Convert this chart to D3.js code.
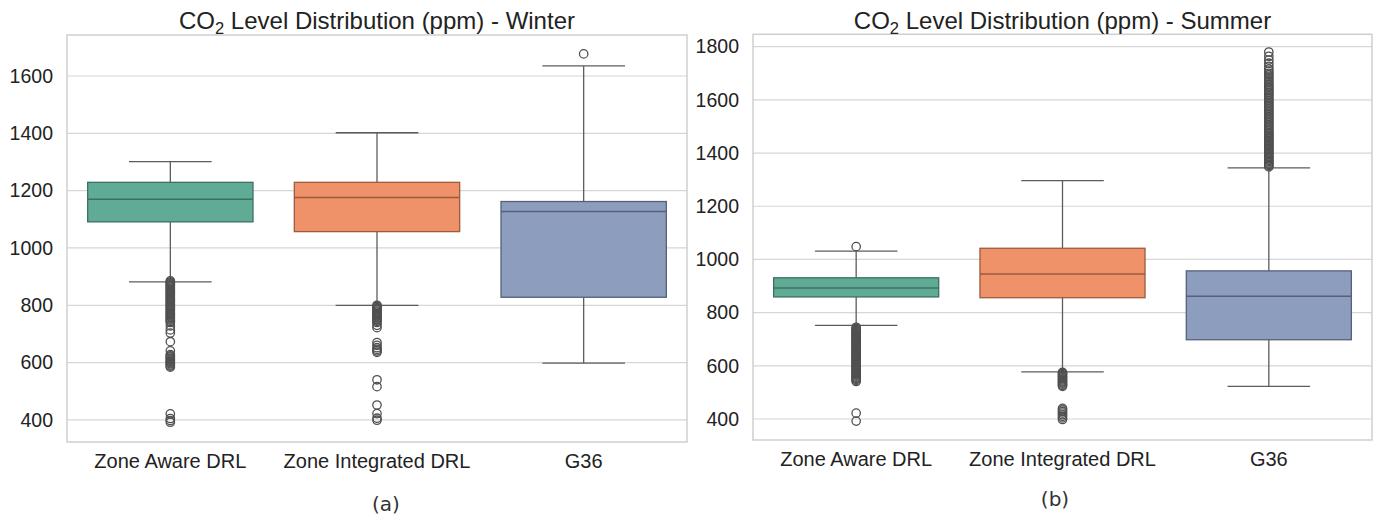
<!DOCTYPE html>
<html>
<head>
<meta charset="utf-8">
<script src="https://cdn.jsdelivr.net/npm/d3@7"></script>
<style>
  body { margin: 0; background: #fff; }
  svg { display: block; font-family: "Liberation Sans", Arial, sans-serif; }
</style>
</head>
<body>
<div id="chart"></div>
<script>
// categories
var categories = ["Zone Aware DRL", "Zone Integrated DRL", "G36"];

// winter box stats (ppm)
var winterLow = [882, 800, 598];
var winterQ1 = [1091, 1057, 828];
var winterMed = [1170, 1176, 1127];
var winterQ3 = [1229, 1229, 1162];
var winterHigh = [1301, 1402, 1635];

// winter outliers
var winterOutAware = [885, 882, 878, 875, 871, 868, 864, 860, 856, 852, 848, 844, 840, 836, 832, 828, 824, 820, 816, 812, 808, 804,
  800, 796, 792, 788, 784, 780, 776, 772, 768, 764, 760, 756, 752, 748, 744, 740, 728, 714, 703, 673, 641,
  628, 624, 620, 616, 612, 608, 604, 600, 596, 592, 588, 584, 421, 405, 398, 392];
var winterOutIntegrated = [800, 796, 792, 788, 784, 780, 776, 772, 768, 764, 760, 756, 752, 748, 744, 740, 730, 722,
  670, 660, 652, 646, 641, 636, 540, 516, 452, 422, 406, 399];
var winterOutG36 = [1677];

// summer box stats (ppm)
var summerLow = [752, 577, 523];
var summerQ1 = [859, 856, 698];
var summerMed = [893, 945, 862];
var summerQ3 = [931, 1042, 957];
var summerHigh = [1031, 1296, 1344];

// summer outliers
var summerOutAware = [1048, 745, 741, 737, 733, 729, 725, 721, 717, 713, 709, 705, 701, 697, 693, 689, 685, 681, 677, 673,
  669, 665, 661, 657, 653, 649, 645, 641, 637, 633, 629, 625, 621, 617, 613, 609, 605, 601, 597, 593, 589, 585, 581,
  577, 573, 569, 565, 561, 557, 553, 549, 545, 541, 422, 392];
var summerOutIntegrated = [575, 571, 567, 563, 559, 555, 551, 547, 543, 539, 535, 531, 527, 523, 440, 434, 428, 422,
  416, 410, 404, 398];
var summerOutG36 = [1348, 1353, 1358, 1363, 1368, 1373, 1378, 1383, 1388, 1393, 1398, 1403, 1408, 1413, 1418, 1423, 1428,
  1433, 1438, 1443, 1448, 1453, 1458, 1463, 1468, 1473, 1478, 1484, 1490, 1496, 1502, 1508, 1514, 1520, 1526, 1532,
  1538, 1544, 1550, 1556, 1562, 1568, 1574, 1580, 1586, 1592, 1598, 1604, 1610, 1616, 1622, 1628, 1634, 1640, 1646,
  1652, 1658, 1665, 1672, 1679, 1686, 1693, 1700, 1708, 1716, 1726, 1738, 1750, 1764, 1780];

// y ticks
var winterTicks = [400, 600, 800, 1000, 1200, 1400, 1600];
var summerTicks = [400, 600, 800, 1000, 1200, 1400, 1600, 1800];

var fills = ["#5fab95", "#ef9169", "#8d9dbe"];
var edges = ["#3f6f61", "#9c5a3f", "#56607a"];

var W = 1378, H = 520;
var svg = d3.select("#chart").append("svg")
  .attr("width", W).attr("height", H);

function buildPanel(cfg) {
  var x = d3.scaleBand().domain(categories).range([cfg.left, cfg.right]);
  var y = d3.scaleLinear().domain(cfg.domain).range([cfg.bottom, cfg.top]);
  var g = svg.append("g");

  // grid
  g.selectAll(".grid").data(cfg.ticks).enter().append("line")
    .attr("x1", cfg.left).attr("x2", cfg.right)
    .attr("y1", function(d) { return y(d); }).attr("y2", function(d) { return y(d); })
    .attr("stroke", "#d6d6d6").attr("stroke-width", 1.2);

  // frame
  g.append("rect")
    .attr("x", cfg.left).attr("y", cfg.top)
    .attr("width", cfg.right - cfg.left).attr("height", cfg.bottom - cfg.top)
    .attr("fill", "none").attr("stroke", "#cfcfcf").attr("stroke-width", 1.5);

  // y axis
  var yAxis = g.append("g")
    .attr("transform", "translate(" + cfg.left + ",0)")
    .call(d3.axisLeft(y).tickValues(cfg.ticks).tickSize(0).tickPadding(14).tickFormat(d3.format("d")));
  yAxis.select(".domain").remove();
  yAxis.selectAll("text").attr("font-size", "19.5px").attr("fill", "#222")
    .attr("font-family", "Liberation Sans, Arial, sans-serif");

  // x axis
  var xAxis = g.append("g")
    .attr("transform", "translate(0," + cfg.bottom + ")")
    .call(d3.axisBottom(x).tickSize(0).tickPadding(12));
  xAxis.select(".domain").remove();
  xAxis.selectAll("text").attr("font-size", "20px").attr("fill", "#222")
    .attr("font-family", "Liberation Sans, Arial, sans-serif");

  var bw = x.bandwidth() * 0.8;
  var cw = x.bandwidth() * 0.4;

  categories.forEach(function(c, i) {
    var cx = x(c) + x.bandwidth() / 2;
    var box = g.append("g");
    // whiskers
    box.append("line").attr("x1", cx).attr("x2", cx)
      .attr("y1", y(cfg.q3[i])).attr("y2", y(cfg.high[i]))
      .attr("stroke", "#5c5c5c").attr("stroke-width", 1.3);
    box.append("line").attr("x1", cx).attr("x2", cx)
      .attr("y1", y(cfg.q1[i])).attr("y2", y(cfg.low[i]))
      .attr("stroke", "#5c5c5c").attr("stroke-width", 1.3);
    // caps
    [cfg.high[i], cfg.low[i]].forEach(function(v) {
      box.append("line").attr("x1", cx - cw / 2).attr("x2", cx + cw / 2)
        .attr("y1", y(v)).attr("y2", y(v))
        .attr("stroke", "#5c5c5c").attr("stroke-width", 1.3);
    });
    // box
    box.append("rect")
      .attr("x", cx - bw / 2).attr("y", y(cfg.q3[i]))
      .attr("width", bw).attr("height", y(cfg.q1[i]) - y(cfg.q3[i]))
      .attr("fill", fills[i]).attr("stroke", edges[i]).attr("stroke-width", 1.3);
    // median
    box.append("line").attr("x1", cx - bw / 2).attr("x2", cx + bw / 2)
      .attr("y1", y(cfg.med[i])).attr("y2", y(cfg.med[i]))
      .attr("stroke", edges[i]).attr("stroke-width", 1.5);
    // fliers
    box.selectAll(".flier").data(cfg.outliers[i]).enter().append("circle")
      .attr("cx", cx).attr("cy", function(d) { return y(d); })
      .attr("r", 4.2)
      .attr("fill", "none").attr("stroke", "#505050").attr("stroke-width", 1.3);
  });

  // title
  var t = svg.append("text")
    .attr("x", (cfg.left + cfg.right) / 2).attr("y", cfg.titleY)
    .attr("text-anchor", "middle").attr("font-size", "24px").attr("fill", "#222");
  t.append("tspan").text("CO");
  t.append("tspan").attr("dy", 5).attr("font-size", "16.5px").text("2");
  t.append("tspan").attr("dy", -5).text(" Level Distribution (ppm) - " + cfg.season);

  // caption
  svg.append("text")
    .attr("x", cfg.capX).attr("y", cfg.capY)
    .attr("text-anchor", "middle").attr("font-size", "20px")
    .attr("font-family", "DejaVu Sans, sans-serif")
    .attr("fill", "#333").text(cfg.caption);
}

buildPanel({
  left: 67, right: 687, top: 35, bottom: 442, domain: [323, 1743],
  ticks: winterTicks, low: winterLow, q1: winterQ1, med: winterMed, q3: winterQ3, high: winterHigh,
  outliers: [winterOutAware, winterOutIntegrated, winterOutG36],
  season: "Winter", titleY: 29, caption: "(a)", capX: 386, capY: 511
});

buildPanel({
  left: 753, right: 1372, top: 34.3, bottom: 440, domain: [321, 1846.6],
  ticks: summerTicks, low: summerLow, q1: summerQ1, med: summerMed, q3: summerQ3, high: summerHigh,
  outliers: [summerOutAware, summerOutIntegrated, summerOutG36],
  season: "Summer", titleY: 29, caption: "(b)", capX: 1055, capY: 506
});
</script>
</body>
</html>
